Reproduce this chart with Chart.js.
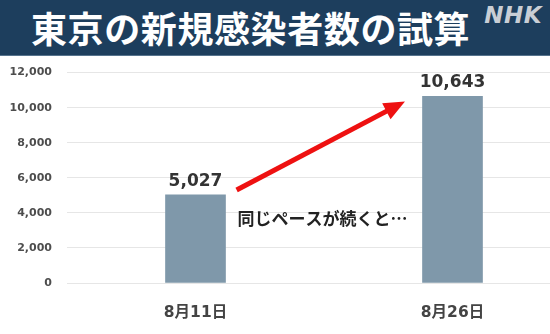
<!DOCTYPE html>
<html lang="ja">
<head>
<meta charset="utf-8">
<script src="https://cdn.jsdelivr.net/npm/chart.js@4"></script>
<style>
  html, body { margin: 0; padding: 0; background: #fff; }
  body { width: 550px; height: 334px; overflow: hidden; position: relative; }
  #header {
    position: absolute; left: 0; top: 0; width: 550px; height: 55px; z-index: 2;
    background: #1d3e5d; border-bottom: 1px solid #56738d;
    display: flex; align-items: center; box-sizing: content-box;
  }
  #title {
    margin-left: 31px; color: #fff;
    font: bold 36px "Noto Sans CJK JP", sans-serif; letter-spacing: 0.6px;
    line-height: 55px;
  }
  #logo {
    position: absolute; right: 8px; top: 2px; color: #c9ced5;
    font: italic bold 23px "DejaVu Sans", sans-serif; letter-spacing: 0.5px;
  }
  #plot { position: absolute; left: 0; top: 51px; width: 581px; height: 283px; z-index: 1; }
</style>
</head>
<body>
<div id="header"><div id="title">東京の新規感染者数の試算</div><div id="logo">NHK</div></div>
<div id="plot"><canvas id="chart"></canvas></div>
<script>
// Daily new infections in Tokyo: reported and projected
const categories = ['8月11日', '8月26日'];
const cases = [5027, 10643];
const yTicks = [0, 2000, 4000, 6000, 8000, 10000, 12000];
const note = '同じペースが続くと…';

// Arrow and note positions in data space (category index, case count)
const arrowFrom = [0.16, 5300];
const arrowTo = [0.815, 10350];
const noteAt = [0.163, 3660];

const fmt = v => v.toLocaleString('en-US');

const overlay = {
  id: 'overlay',
  afterDatasetsDraw(chart) {
    const { ctx, scales: { x, y } } = chart;
    const meta = chart.getDatasetMeta(0);
    ctx.save();

    // value labels above each bar
    ctx.fillStyle = '#333';
    ctx.font = 'bold 17px "DejaVu Sans", sans-serif';
    ctx.textAlign = 'center';
    ctx.textBaseline = 'bottom';
    meta.data.forEach((bar, i) => {
      ctx.fillText(fmt(cases[i]), bar.x, bar.y - 5);
    });

    // red trend arrow
    const x0 = x.getPixelForValue(arrowFrom[0]), y0 = y.getPixelForValue(arrowFrom[1]);
    const x1 = x.getPixelForValue(arrowTo[0]), y1 = y.getPixelForValue(arrowTo[1]);
    const ang = Math.atan2(y1 - y0, x1 - x0);
    const headLen = 21, headHalf = 9;
    const bx = x1 - headLen * Math.cos(ang), by = y1 - headLen * Math.sin(ang);
    ctx.strokeStyle = '#ee1111';
    ctx.fillStyle = '#ee1111';
    ctx.lineWidth = 5;
    ctx.beginPath();
    ctx.moveTo(x0, y0);
    ctx.lineTo(bx + 2 * Math.cos(ang), by + 2 * Math.sin(ang));
    ctx.stroke();
    ctx.beginPath();
    ctx.moveTo(x1, y1);
    ctx.lineTo(bx + headHalf * Math.sin(ang), by - headHalf * Math.cos(ang));
    ctx.lineTo(bx - headHalf * Math.sin(ang), by + headHalf * Math.cos(ang));
    ctx.closePath();
    ctx.fill();

    // note text
    ctx.fillStyle = '#222';
    ctx.font = 'bold 17px "Noto Sans CJK JP", sans-serif';
    ctx.textAlign = 'left';
    ctx.textBaseline = 'middle';
    ctx.fillText(note, x.getPixelForValue(noteAt[0]), y.getPixelForValue(noteAt[1]));
    ctx.restore();
  }
};

new Chart(document.getElementById('chart'), {
  type: 'bar',
  data: {
    labels: categories,
    datasets: [{ data: cases, backgroundColor: '#7f98aa', barThickness: 60 }]
  },
  options: {
    responsive: true,
    maintainAspectRatio: false,
    animation: false,
    layout: { padding: { top: 5, left: 0, right: 0, bottom: 0 } },
    plugins: { legend: { display: false }, tooltip: { enabled: false } },
    scales: {
      x: {
        grid: { display: false },
        border: { display: false },
        ticks: {
          color: '#444',
          font: { family: '"DejaVu Sans", "Noto Sans CJK JP", sans-serif', size: 15.5, weight: 'bold' },
          padding: 13
        },
        afterFit(scale) { scale.height = 51; }
      },
      y: {
        min: yTicks[0],
        max: yTicks[yTicks.length - 1],
        afterBuildTicks(scale) { scale.ticks = yTicks.map(v => ({ value: v })); },
        grid: { color: '#e6e6e6', drawTicks: false },
        border: { display: false },
        ticks: {
          color: '#4d4d4d',
          font: { family: '"DejaVu Sans", sans-serif', size: 11, weight: 'bold' },
          padding: 15,
          callback: v => fmt(v)
        },
        afterFit(scale) { scale.width = 67; }
      }
    }
  },
  plugins: [overlay]
});
</script>
</body>
</html>
